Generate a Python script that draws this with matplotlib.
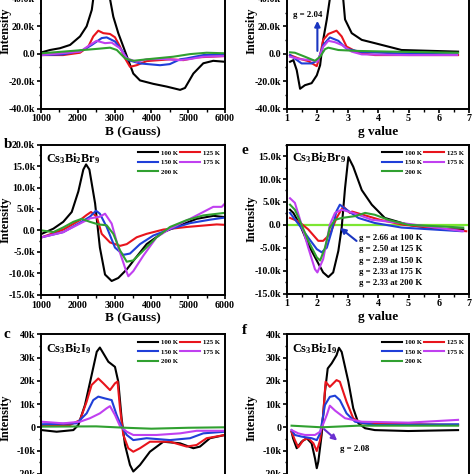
import numpy as np
import matplotlib.pyplot as plt
from matplotlib.ticker import MultipleLocator, FuncFormatter

plt.rcParams['font.family'] = ['Liberation Serif', 'DejaVu Serif']
plt.rcParams['font.weight'] = 'bold'
plt.rcParams['axes.labelweight'] = 'bold'
plt.rcParams['axes.unicode_minus'] = False
plt.rcParams['mathtext.fontset'] = 'custom'
plt.rcParams['mathtext.rm'] = 'Liberation Serif:bold'
plt.rcParams['mathtext.it'] = 'Liberation Serif:bold'

temps = ['100 K', '125 K', '150 K', '175 K', '200 K']
colors = ['#000000', '#e8141c', '#1f3fd8', '#c040f0', '#30a030']

# ---- panel a: Cs3Bi2Cl9 vs field (Gauss), values in k ----
a_b100 = [1020, 1245, 1516, 1790, 2060, 2240, 2380, 2420, 2520, 2620, 2760, 2875, 2965, 3100, 3236,
          3372, 3508, 3690, 4050, 4415, 4780, 4913, 5140, 5410, 5680, 6000]
a_y100 = [1.0, 2.7, 4.0, 6.4, 12.6, 20.0, 32.0, 40.0, 54.0, 58.0, 52.0, 40.0, 27.0, 15.0, 5.2,
          -4.7, -14.5, -19.5, -22.0, -24.0, -26.4, -25.0, -14.5, -7.0, -5.2, -5.9]
a_b125 = [1020, 1600, 2060, 2285, 2420, 2557, 2693, 2875, 3010, 3147, 3283, 3418, 3600, 3870, 4505,
          4870, 5230, 6000]
a_y125 = [-1.0, -1.0, 0.7, 5.2, 12.6, 16.8, 15.0, 14.4, 12.0, 5.2, -3.4, -9.6, -8.4, -5.4, -4.1,
          -4.7, -2.7, -1.7]
a_b150 = [1020, 1600, 2150, 2380, 2650, 2785, 3010, 3190, 3372, 3690, 4235, 4500, 4780, 4960, 5410, 6000]
a_y150 = [-1.0, -0.5, 2.7, 6.4, 11.4, 11.9, 8.9, 2.7, -4.7, -7.1, -8.4, -7.6, -4.1, -3.4, -1.0, -0.5]
a_b175 = [1020, 2060, 2330, 2510, 2740, 2920, 3147, 3328, 3600, 3870, 4325, 4780, 5050, 5410, 6000]
a_y175 = [-1.0, 1.5, 6.4, 9.4, 7.7, 8.1, 4.0, -3.4, -5.9, -4.1, -3.9, -4.7, -3.9, -2.2, -1.7]
a_b200 = [1020, 1600, 2150, 2510, 2875, 3060, 3283, 3508, 3870, 4595, 5050, 5500, 6000]
a_y200 = [0.3, 1.5, 2.7, 3.5, 4.4, 2.7, -3.4, -5.2, -4.1, -2.2, -0.3, 0.7, 0.3]

# ---- panel d: Cs3Bi2Cl9 vs g value ----
d_g100 = [1.10, 1.21, 1.32, 1.43, 1.59, 1.81, 1.98, 2.09, 2.19, 2.31, 2.41, 2.50, 2.58, 2.70, 2.85,
          2.91, 3.13, 3.46, 3.89, 4.33, 4.77, 5.54, 6.63]
d_y100 = [-5.9, -4.7, -12.0, -25.6, -23.0, -21.5, -15.8, -8.4, 10.0, 25.0, 40.0, 52.0, 56.0, 52.0, 40.0,
          25.0, 15.0, 10.1, 7.7, 5.2, 2.7, 2.2, 1.5]
d_g125 = [1.10, 1.37, 1.70, 1.98, 2.09, 2.19, 2.36, 2.63, 2.80, 2.96, 3.35, 3.89, 6.63]
d_y125 = [-1.0, -3.4, -5.4, -9.1, -1.0, 10.0, 14.4, 16.8, 12.6, 5.2, 0.7, -1.0, -1.0]
d_g150 = [1.10, 1.48, 1.81, 2.03, 2.19, 2.41, 2.69, 2.96, 3.46, 5.00, 6.60]
d_y150 = [-1.0, -7.1, -7.1, -4.7, 6.3, 11.9, 9.4, 3.6, 1.2, 0.0, -0.5]
d_g175 = [1.10, 1.43, 1.81, 2.00, 2.19, 2.36, 2.58, 2.80, 3.13, 3.46, 5.00, 6.60]
d_y175 = [-2.2, -4.0, -4.7, -5.9, 5.0, 9.4, 8.4, 6.4, 1.5, -0.5, -1.0, -1.0]
d_g200 = [1.10, 1.26, 1.59, 1.92, 2.09, 2.25, 2.36, 2.69, 3.35, 4.44, 6.63]
d_y200 = [1.0, 0.7, -2.2, -5.2, -2.2, 3.3, 4.4, 2.7, 2.0, 1.5, 0.7]

# ---- panel b: Cs3Bi2Br9 vs field ----
b_b100 = [1020, 1335, 1605, 1835, 2015, 2150, 2225, 2315, 2470, 2600, 2740, 2920, 3100, 3330, 3510,
          3870, 4325, 4780, 5230, 5685, 6000]
b_y100 = [-0.8, 0.4, 2.0, 4.3, 9.1, 14.2, 15.4, 14.2, 6.3, -4.0, -10.3, -11.8, -11.1, -9.1, -7.1,
          -3.2, -0.4, 1.2, 2.7, 3.4, 3.1]
b_b125 = [1020, 1605, 2060, 2240, 2360, 2515, 2650, 2875, 3150, 3330, 3600, 3870, 4325, 4960, 5500,
          5775, 6000]
b_y125 = [-1.6, 0.2, 2.4, 3.6, 4.3, 3.2, -0.8, -2.8, -3.6, -3.2, -1.6, -0.8, 0.2, 0.8, 1.2, 1.4, 1.3]
b_b150 = [1020, 1605, 2060, 2330, 2495, 2600, 2785, 3010, 3237, 3418, 3690, 4050, 4505, 5050, 5590, 6000]
b_y150 = [-1.6, -0.4, 1.8, 3.2, 4.6, 3.9, 0.8, -4.0, -5.7, -5.4, -3.2, -1.2, 0.3, 1.7, 2.5, 3.0]
b_b175 = [1020, 1605, 2060, 2330, 2600, 2740, 2920, 3100, 3283, 3373, 3508, 3780, 4140, 4505, 5050,
          5410, 5680, 5910, 6000]
b_y175 = [-1.6, -0.4, 1.6, 2.8, 3.2, 3.9, 1.6, -4.0, -8.7, -10.7, -9.5, -5.9, -1.6, 0.4, 2.7,
          4.3, 5.5, 5.5, 6.3]
b_b200 = [1020, 1335, 1605, 1880, 2105, 2330, 2560, 2785, 2965, 3150, 3330, 3508, 3780, 4140, 4505,
          4960, 5410, 6000]
b_y200 = [0.0, -0.4, 0.7, 2.0, 2.7, 2.0, 1.4, 1.2, -0.8, -4.7, -7.3, -7.0, -4.7, -1.6, 0.8,
          2.4, 3.5, 4.1]

# ---- panel e: Cs3Bi2Br9 vs g value ----
e_g100 = [1.10, 1.21, 1.43, 1.70, 1.98, 2.19, 2.36, 2.52, 2.69, 2.80, 2.91, 3.02, 3.18, 3.46, 3.79,
          4.22, 4.99, 6.09, 6.80]
e_y100 = [3.3, 2.6, 0.0, -4.3, -7.8, -10.4, -11.4, -10.4, -5.7, -0.6, 8.0, 14.8, 12.7, 7.6, 4.4,
          1.5, 0.0, -1.0, -1.0]
e_g125 = [1.10, 1.37, 1.70, 2.03, 2.19, 2.41, 2.63, 2.85, 3.07, 3.14, 4.06, 4.84, 6.90]
e_y125 = [1.5, 0.8, -1.0, -3.5, -3.5, -2.1, 1.5, 4.0, 2.6, 2.9, 1.1, 0.0, -1.4]
e_g150 = [1.10, 1.43, 1.70, 1.98, 2.14, 2.31, 2.47, 2.63, 2.74, 2.96, 3.35, 3.89, 4.77, 6.75]
e_y150 = [2.6, -0.3, -2.8, -5.3, -6.0, -5.0, -1.4, 3.0, 4.4, 3.3, 1.5, 0.4, -0.6, -1.4]
e_g175 = [1.10, 1.26, 1.43, 1.70, 1.92, 2.00, 2.19, 2.41, 2.58, 2.80, 3.18, 3.79, 4.77, 6.80]
e_y175 = [5.8, 4.8, 1.1, -5.0, -9.7, -10.4, -7.5, 0.0, 2.6, 3.3, 2.6, 1.1, 0.4, -1.4]
e_g200 = [1.10, 1.26, 1.48, 1.70, 1.98, 2.09, 2.25, 2.41, 2.58, 2.80, 3.24, 3.57, 3.89, 4.33, 4.99, 6.80]
e_y200 = [4.4, 3.3, 0.0, -3.5, -7.1, -7.8, -5.0, -0.6, 1.1, 1.5, 1.9, 2.6, 2.2, 1.1, 0.0, -0.6]
e_notes = ['g = 2.66 at 100 K', 'g = 2.50 at 125 K', 'g = 2.39 at 150 K',
           'g = 2.33 at 175 K', 'g = 2.33 at 200 K']

# ---- panel c: Cs3Bi2I9 vs field ----
c_b100 = [1020, 1425, 1880, 2015, 2195, 2375, 2515, 2600, 2695, 2830, 3010, 3100, 3190, 3283, 3418,
          3508, 3690, 3960, 4325, 4780, 5140, 5320, 5590, 6000]
c_y100 = [-1.2, -1.9, -1.2, 1.0, 9.6, 22.4, 32.5, 34.3, 31.8, 28.2, 26.0, 19.6, 3.9, -7.6, -16.2,
          -19.0, -16.2, -10.5, -6.2, -6.9, -9.0, -8.3, -4.7, -3.3]
c_b125 = [1020, 1790, 2060, 2240, 2375, 2557, 2695, 2875, 3010, 3080, 3147, 3237, 3372, 3508, 3690,
          3960, 4505, 4960, 5230, 5500, 6000]
c_y125 = [1.0, 1.0, 3.1, 11.0, 18.2, 21.0, 18.9, 16.0, 18.9, 19.7, 8.2, -3.3, -9.0, -10.5, -9.0,
          -6.2, -6.2, -8.3, -7.6, -4.7, -3.3]
c_b150 = [1020, 1970, 2240, 2420, 2557, 2740, 2920, 3055, 3190, 3330, 3508, 3870, 4505, 5050, 5410, 6000]
c_y150 = [1.3, 1.7, 6.0, 11.7, 13.2, 12.4, 11.7, 5.3, 0.3, -3.3, -5.5, -4.7, -5.5, -4.7, -2.6, -1.9]
c_b175 = [1020, 1605, 2060, 2330, 2600, 2785, 2875, 3010, 3147, 3330, 3508, 4140, 4780, 5230, 6000]
c_y175 = [2.4, 1.7, 2.4, 3.9, 6.0, 8.2, 9.1, 5.3, 0.5, -1.9, -3.3, -3.3, -2.6, -1.5, -1.5]
c_b200 = [1020, 2500, 3300, 4000, 5000, 6000]
c_y200 = [0.3, 0.4, -0.2, -0.6, -0.2, 0.0]

# ---- panel f: Cs3Bi2I9 vs g value ----
f_g100 = [1.15, 1.20, 1.32, 1.48, 1.65, 1.81, 1.92, 1.98, 2.03, 2.14, 2.25, 2.34, 2.47, 2.63, 2.71,
          2.80, 3.02, 3.18, 3.35, 3.57, 3.89, 4.99, 6.63]
f_y100 = [-1.9, -4.7, -9.0, -6.2, -4.7, -6.9, -13.3, -17.6, -14.8, -3.3, 15.3, 25.3, 27.5, 31.0, 34.2,
          32.4, 19.6, 8.2, 1.7, -0.4, -1.2, -1.6, -1.2]
f_g125 = [1.15, 1.26, 1.37, 1.54, 1.70, 1.87, 1.98, 2.09, 2.19, 2.27, 2.41, 2.63, 2.74, 2.96, 3.18,
          3.46, 6.63]
f_y125 = [-1.9, -5.5, -8.6, -5.5, -4.7, -6.9, -10.2, -5.5, 5.3, 19.6, 17.4, 20.3, 19.6, 11.0, 3.9,
          1.7, 1.0]
f_g150 = [1.15, 1.26, 1.48, 1.81, 1.98, 2.09, 2.25, 2.41, 2.58, 2.74, 2.96, 3.24, 3.89, 6.63]
f_y150 = [-1.2, -3.3, -4.0, -4.7, -5.5, -2.6, 9.6, 13.1, 13.6, 11.7, 6.0, 2.4, 1.0, 1.3]
f_g175 = [1.15, 1.37, 1.59, 1.92, 2.09, 2.31, 2.41, 2.58, 2.91, 3.46, 5.00, 6.63]
f_y175 = [-1.2, -2.6, -3.3, -3.3, -1.9, 5.3, 9.3, 7.2, 3.9, 2.4, 2.0, 3.2]
f_g200 = [1.15, 2.14, 3.35, 6.63]
f_y200 = [0.7, 0.0, 0.7, 0.7]

W = 474.0


def box(left, top, right, bottom):
    return [left / W, 1 - bottom / W, (right - left) / W, (bottom - top) / W]


def kfmt(dec):
    def f(v, pos):
        if abs(v) < 1e-6:
            return '0.0' if dec else '0'
        return ('%.1fk' % (v / 1000)) if dec else ('%dk' % round(v / 1000))
    return FuncFormatter(f)


def style(ax, xlim, xmaj, xmin, ylim, ymaj, ymin, dec, xlabel, ylab_y=0.5):
    ax.set_xlim(*xlim)
    ax.set_ylim(*ylim)
    ax.xaxis.set_major_locator(MultipleLocator(xmaj))
    ax.xaxis.set_minor_locator(MultipleLocator(xmin))
    ax.yaxis.set_major_locator(MultipleLocator(ymaj))
    ax.yaxis.set_minor_locator(MultipleLocator(ymin))
    ax.yaxis.set_major_formatter(kfmt(dec))
    ax.tick_params(which='major', length=3, width=1.2, labelsize=7.2, pad=1.2)
    ax.tick_params(which='minor', length=1.8, width=1.0)
    for s in ax.spines.values():
        s.set_linewidth(1.4)
    ax.set_ylabel('Intensity', fontsize=8.8, labelpad=0)
    # label right edge ~29 px left of the spine, as in the reference
    ax.yaxis.set_label_coords(-29.0 / (ax.get_position().width * W), ylab_y)
    ax.set_xlabel(xlabel, fontsize=9.5, labelpad=2)


def curves(ax, xs, ys):
    lines = []
    for x, y, c, t in zip(xs, ys, colors, temps):
        ln, = ax.plot(x, np.array(y) * 1000, color=c, lw=1.5, label=t)
        lines.append(ln)
    return lines


def legend(ax, lines):
    order = [0, 2, 4, 1, 3]
    ax.legend([lines[i] for i in order], [temps[i] for i in order], ncol=2, loc='upper right',
              frameon=False, handlelength=2.9, handletextpad=0.45,
              columnspacing=0.35, labelspacing=0.55, borderaxespad=0.35,
              prop={'family': 'Liberation Serif', 'weight': 'bold', 'size': 4.9})


fig = plt.figure(figsize=(4.74, 4.74), dpi=100)

# a
ax = fig.add_axes(box(41, -28.5, 225, 108.5))
curves(ax, [a_b100, a_b125, a_b150, a_b175, a_b200], [a_y100, a_y125, a_y150, a_y175, a_y200])
style(ax, (1000, 6000), 1000, 500, (-40000, 60000), 20000, 10000, True, 'B (Gauss)', 0.57)

# d
ax = fig.add_axes(box(287, -28.5, 469.3, 108.5))
curves(ax, [d_g100, d_g125, d_g150, d_g175, d_g200], [d_y100, d_y125, d_y150, d_y175, d_y200])
style(ax, (1, 7), 1, 0.5, (-40000, 60000), 20000, 10000, True, 'g value', 0.57)
ax.annotate('', xy=(2.0, 26000), xytext=(2.0, 0),
            arrowprops=dict(arrowstyle='-|>', color='#1a35c0', lw=1.5, mutation_scale=8))
ax.text(1.68, 28500, 'g = 2.04', fontsize=6.3, ha='center', va='center')

# b
ax = fig.add_axes(box(41, 144.7, 225, 294.7))
ln = curves(ax, [b_b100, b_b125, b_b150, b_b175, b_b200], [b_y100, b_y125, b_y150, b_y175, b_y200])
style(ax, (1000, 6000), 1000, 500, (-15000, 20000), 5000, 2500, True, 'B (Gauss)')
legend(ax, ln)
ax.text(0.025, 0.96, r'$\mathrm{Cs_3Bi_2Br_9}$', transform=ax.transAxes, fontsize=8.8, va='top')

# e
ax = fig.add_axes(box(287, 144.7, 469.3, 293.5))
ax.axhline(0, color='#7ce632', lw=1.6, zorder=1)
ln = curves(ax, [e_g100, e_g125, e_g150, e_g175, e_g200], [e_y100, e_y125, e_y150, e_y175, e_y200])
style(ax, (1, 7), 1, 0.5, (-15000, 17500), 5000, 2500, True, 'g value')
legend(ax, ln)
ax.text(0.025, 0.96, r'$\mathrm{Cs_3Bi_2Br_9}$', transform=ax.transAxes, fontsize=8.8, va='top')
ax.annotate('', xy=(2.68, -300), xytext=(3.36, -3900),
            arrowprops=dict(arrowstyle='-|>', color='#1a35c0', lw=1.5, mutation_scale=8))
for i, t in enumerate(e_notes):
    ax.text(3.37, -2900 - i * 2450, t, fontsize=6.3, ha='left', va='center')

# c
ax = fig.add_axes(box(41, 334.3, 225, 520.3))
ln = curves(ax, [c_b100, c_b125, c_b150, c_b175, c_b200], [c_y100, c_y125, c_y150, c_y175, c_y200])
style(ax, (1000, 6000), 1000, 500, (-40000, 40000), 10000, 5000, False, 'B (Gauss)', 0.55)
legend(ax, ln)
ax.text(0.025, 0.965, r'$\mathrm{Cs_3Bi_2I_9}$', transform=ax.transAxes, fontsize=8.8, va='top')

# f
ax = fig.add_axes(box(287, 334.3, 469.3, 520.3))
ln = curves(ax, [f_g100, f_g125, f_g150, f_g175, f_g200], [f_y100, f_y125, f_y150, f_y175, f_y200])
style(ax, (1, 7), 1, 0.5, (-40000, 40000), 10000, 5000, False, 'g value', 0.55)
legend(ax, ln)
ax.text(0.025, 0.965, r'$\mathrm{Cs_3Bi_2I_9}$', transform=ax.transAxes, fontsize=8.8, va='top')
ax.annotate('', xy=(2.72, -6500), xytext=(2.15, 0),
            arrowprops=dict(arrowstyle='-|>', color='#6a2fd0', lw=1.5, mutation_scale=8))
ax.text(2.75, -9500, 'g = 2.08', fontsize=6.3, ha='left', va='center')

# panel letters
for s, x, y in [('b', 4, 145), ('e', 242, 150), ('c', 4, 334), ('f', 242, 330)]:
    fig.text(x / W, 1 - y / W, s, fontsize=11, fontweight='bold', va='center', ha='left')

fig.savefig('out.png', dpi=100)
